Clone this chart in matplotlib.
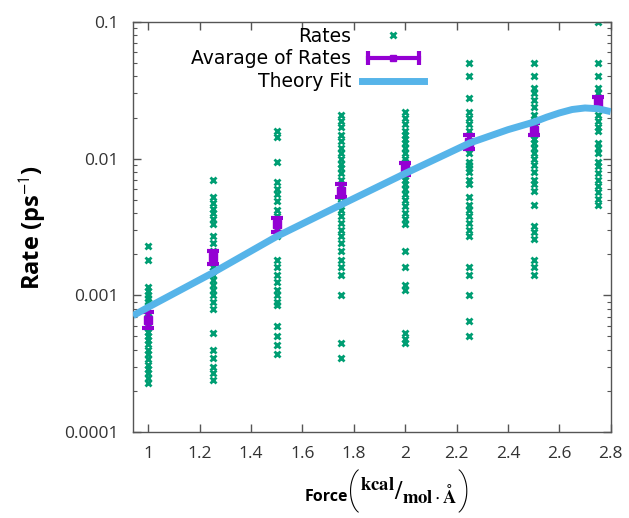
import numpy as np
import matplotlib
matplotlib.use("Agg")
import matplotlib.pyplot as plt
from matplotlib.lines import Line2D
from matplotlib.legend_handler import HandlerLine2D, HandlerTuple

plt.rcParams['font.family'] = ['Open Sans', 'DejaVu Sans']
plt.rcParams['mathtext.fontset'] = 'stix'

# forces at which the rates were sampled
forces = [1.0, 1.25, 1.5, 1.75, 2.0, 2.25, 2.5, 2.75]

# individual rates (ps^-1), one list per force
rates_100 = [0.0023, 0.0018, 0.00115, 0.00108, 0.001, 0.00095, 0.0009, 0.00085, 0.0008,
             0.00074, 0.0007, 0.00066, 0.00062, 0.00058, 0.00054, 0.0005, 0.00047, 0.00044,
             0.0004, 0.00037, 0.00034, 0.00031, 0.00029, 0.00027, 0.00025, 0.00023]
rates_125 = [0.007, 0.0052, 0.0047, 0.0043, 0.004, 0.0036, 0.0033, 0.0027, 0.0024, 0.0021,
             0.002, 0.0018, 0.0016, 0.0015, 0.0014, 0.0013, 0.0012, 0.0011, 0.001, 0.0009,
             0.0008, 0.00053, 0.0004, 0.00035, 0.0003, 0.00027, 0.00024]
rates_150 = [0.016, 0.0145, 0.0095, 0.0068, 0.006, 0.0055, 0.0049, 0.0042, 0.0038, 0.0034,
             0.003, 0.0027, 0.0018, 0.0016, 0.0014, 0.00125, 0.0011, 0.001, 0.0009, 0.00085,
             0.0006, 0.0005, 0.00043, 0.00037]
rates_175 = [0.021, 0.019, 0.017, 0.015, 0.0135, 0.012, 0.011, 0.01, 0.0092, 0.0085, 0.0078,
             0.007, 0.0064, 0.0058, 0.0052, 0.0047, 0.0042, 0.0038, 0.0034, 0.003, 0.0027,
             0.0024, 0.0021, 0.0018, 0.0016, 0.0014, 0.001, 0.00045, 0.00035]
rates_200 = [0.022, 0.02, 0.018, 0.016, 0.015, 0.014, 0.013, 0.012, 0.011, 0.010, 0.0095,
             0.009, 0.0085, 0.008, 0.0075, 0.007, 0.0065, 0.006, 0.0055, 0.005, 0.0045, 0.004,
             0.0036, 0.0033, 0.0021, 0.0016, 0.0012, 0.0011, 0.00053, 0.00048, 0.00045]
rates_225 = [0.05, 0.04, 0.028, 0.022, 0.02, 0.018, 0.016, 0.0145, 0.013, 0.012, 0.011,
             0.0095, 0.009, 0.0085, 0.008, 0.007, 0.0065, 0.0052, 0.0046, 0.0042, 0.0038,
             0.0034, 0.003, 0.0027, 0.0016, 0.0014, 0.001, 0.00065, 0.0005]
rates_250 = [0.05, 0.04, 0.033, 0.03, 0.027, 0.024, 0.021, 0.019, 0.017, 0.015, 0.014, 0.013,
             0.012, 0.011, 0.01, 0.009, 0.008, 0.007, 0.0065, 0.0058, 0.0046, 0.0032, 0.0029,
             0.0026, 0.0018, 0.0016, 0.0014]
rates_275 = [0.1, 0.05, 0.04, 0.033, 0.03, 0.027, 0.024, 0.021, 0.019, 0.017, 0.016, 0.013,
             0.012, 0.011, 0.0095, 0.0088, 0.0078, 0.007, 0.0063, 0.0057, 0.0051, 0.0046]
all_rates = [rates_100, rates_125, rates_150, rates_175, rates_200, rates_225, rates_250, rates_275]

# average of rates and the ends of its error bar
avg_rates = [0.00066, 0.0019, 0.0033, 0.0058, 0.0085, 0.0133, 0.0163, 0.0258]
avg_low = [0.00058, 0.0017, 0.0029, 0.0052, 0.0076, 0.0118, 0.0148, 0.0232]
avg_high = [0.00075, 0.0021, 0.0037, 0.0065, 0.0093, 0.0148, 0.0182, 0.0285]

# theory fit curve
fit_force = [0.94, 1.0, 1.25, 1.5, 1.75, 2.0, 2.25, 2.4, 2.5, 2.55, 2.6, 2.65, 2.7, 2.75, 2.8]
fit_rate = [0.00071, 0.00082, 0.00146, 0.0027, 0.0046, 0.0078, 0.0130, 0.0163, 0.0185,
            0.0201, 0.0216, 0.0229, 0.0235, 0.0232, 0.0221]

green = '#009E73'
purple = '#9400D3'
blue = '#56B4E9'

fig = plt.figure(figsize=(6.29, 5.18), dpi=100)
ax = fig.add_axes([0.2114, 0.166, 0.7595, 0.7915])

for f, r in zip(forces, all_rates):
    ax.plot([f] * len(r), r, ls='none', marker='x', ms=5, mew=2, color=green, zorder=2)

lo = np.array(avg_rates) - np.array(avg_low)
hi = np.array(avg_high) - np.array(avg_rates)
ax.errorbar(forces, avg_rates, yerr=[lo, hi], fmt='s', ms=6, color=purple, ecolor=purple,
            elinewidth=3, capsize=4, capthick=3, zorder=3)

ax.plot(fit_force, fit_rate, color=blue, lw=5, solid_capstyle='butt',
        solid_joinstyle='round', zorder=4)

ax.set_yscale('log')
ax.set_xlim(0.94, 2.8)
ax.set_ylim(1e-4, 0.1)
ax.set_xticks([1, 1.2, 1.4, 1.6, 1.8, 2, 2.2, 2.4, 2.6, 2.8])
ax.set_xticklabels(['1', '1.2', '1.4', '1.6', '1.8', '2', '2.2', '2.4', '2.6', '2.8'])
ax.set_yticks([1e-4, 1e-3, 1e-2, 1e-1])
ax.set_yticklabels(['0.0001', '0.001', '0.01', '0.1'])
ax.tick_params(which='both', direction='in', top=True, right=True, labelsize=12.5,
               labelcolor='#333333', color='#555555')
ax.tick_params(which='major', length=6, width=1, pad=10)
ax.tick_params(which='minor', length=3, width=0.8)
ax.tick_params(axis='x', which='minor', top=False, bottom=False)
for sp in ax.spines.values():
    sp.set_color('#555555')
    sp.set_linewidth(1)

ax.set_ylabel('Rate (ps$^{\\mathsf{-1}}$)', fontsize=17, fontweight='bold', labelpad=12)

# x label in parts: small sans word, tall thin parentheses, serif unit fraction
fig.text(0.484, 0.040, 'Force', fontsize=11.5, fontweight='bold', ha='left', va='center')
fig.text(0.551, 0.052, '(', fontsize=30, family='Roboto', fontweight='light',
         ha='left', va='center')
frac = fig.text(0.572, 0.052, r'$^{\mathbf{kcal}}/_{\mathbf{mol}\cdot\mathbf{\AA}}$',
                fontsize=19, ha='left', va='center')
fig.canvas.draw()
bb = frac.get_window_extent()
fig.text(bb.x1 / fig.bbox.width + 0.001, 0.052, ')', fontsize=30, family='Roboto',
         fontweight='light', ha='left', va='center')

# legend, gnuplot style: text on the left, sample on the right
h_rates = Line2D([], [], ls='none', marker='x', ms=5, mew=2, color=green)
h_caps = Line2D([], [], color=purple, lw=3, marker='|', ms=10, mew=3)
h_mid = Line2D([], [], ls='none', marker='s', ms=5, color=purple)
h_fit = Line2D([], [], color=blue, lw=5)
ax.legend([h_rates, (h_caps, h_mid), h_fit], ['Rates', 'Avarage of Rates', 'Theory Fit'],
          handler_map={h_caps: HandlerLine2D(numpoints=2), tuple: HandlerTuple(ndivide=1)},
          markerfirst=False, frameon=False, handlelength=3.3,
          prop={'family': 'DejaVu Sans', 'size': 13.5},
          labelspacing=0.2, handletextpad=0.6, loc='upper right',
          bbox_to_anchor=(0.645, 1.03))

fig.savefig('out.png', dpi=100)
